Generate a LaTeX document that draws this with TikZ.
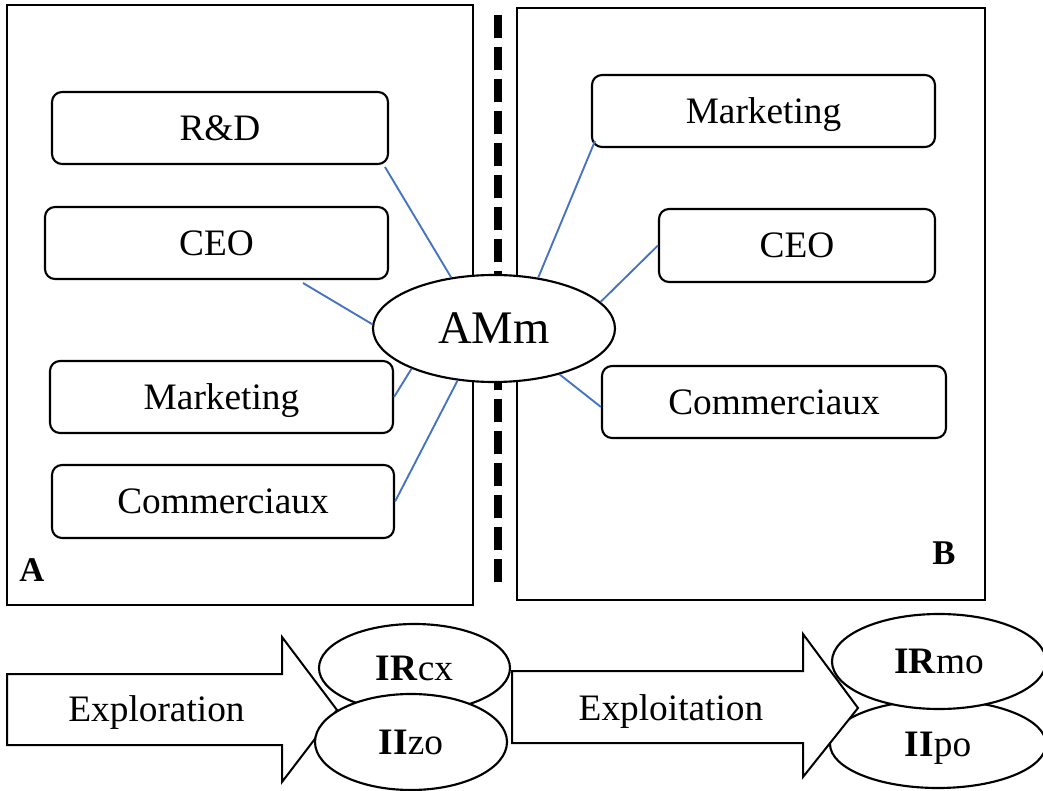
\documentclass[tikz,border=0pt]{standalone}
\usepackage{fontspec}
\setmainfont{Liberation Serif}
\usetikzlibrary{shapes.geometric}
\definecolor{linkblue}{HTML}{4472C4}
\begin{document}
\begin{tikzpicture}[x=0.75pt,y=-0.75pt,
  frame/.style={draw, line width=1.5pt},
  unit/.style={draw, line width=1.6pt, rounded corners=7.5pt, fill=white, inner sep=0pt,
    minimum height=54pt, text height=18.5pt, text depth=0pt, font=\fontsize{28}{30}\selectfont},
  link/.style={draw=linkblue, line width=1.4pt},
  oval/.style={draw, ellipse, line width=1.6pt, fill=white, inner sep=0pt,
    text height=18.5pt, text depth=0pt, font=\fontsize{28}{30}\selectfont},
  flow/.style={draw, line width=1.5pt, fill=white, line join=miter},
  lbl/.style={inner sep=0pt, text height=18.5pt, text depth=0pt, font=\fontsize{28}{30}\selectfont},
  tag/.style={inner sep=0pt, text height=17.2pt, text depth=0pt, font=\fontsize{26}{28}\selectfont\bfseries}]
\useasboundingbox (0,0) rectangle (1043,791);

% frames
\draw[frame] (7,5) rectangle (473,605);
\draw[frame] (517,8) rectangle (985,600);
\coordinate (dtop) at (498,15);
\coordinate (dbot) at (498,582);
\draw[line width=6pt, dash pattern=on 17.25pt off 6.75pt] (dtop) -- (dbot);

% boxes
\node[unit, minimum width=252pt] (rdl) at (220,128) {R\&D};
\node[unit, minimum width=257.25pt] (ceol) at (216.5,243) {CEO};
\node[unit, minimum width=257.25pt] (mkl) at (221.5,397) {Marketing};
\node[unit, minimum width=256.5pt, minimum height=54.75pt] (coml) at (223,501.5) {Commerciaux};
\node[unit, minimum width=257.25pt] (mkr) at (763.5,111) {Marketing};
\node[unit, minimum width=207pt, minimum height=54.75pt] (ceor) at (797,245.5) {CEO};
\node[unit, minimum width=258pt] (comr) at (774,402) {Commerciaux};

\node[tag] (ta) at (32,570) {A};
\node[tag] (tb) at (944,553) {B};

% central ellipse
\node[oval, minimum width=181.5pt, minimum height=80.25pt, text height=23.2pt,
  font=\fontsize{35}{40}\selectfont] (amm) at (494,328.5) {AMm};

% connectors
\coordinate (rdfoot) at (385,167);
\coordinate (ceofoot) at (303,283);
\coordinate (mkrfoot) at (595,141);
\draw[link] (rdfoot) -- (amm.130);
\draw[link] (ceofoot) -- (amm.178);
\draw[link] (mkl.east) -- (amm.206);
\draw[link] (coml.east) -- (amm.235);
\draw[link] (mkrfoot) -- (amm.49);
\draw[link] (ceor.west) -- (amm.14);
\draw[link] ([yshift=-3.75pt]comr.west) -- (amm.325);

% bottom: exploration
\node[oval, minimum width=143.25pt, minimum height=66pt] (ircx) at (414.5,668) {\textbf{IR}cx};
\draw[flow] (7,674) -- (282,674) -- (282,637) -- (337,710) -- (282,782) -- (282,745) -- (7,745) -- cycle;
\node[lbl] (explo) at (156.5,709) {Exploration};
\node[oval, minimum width=144pt, minimum height=72pt] (iizo) at (411,742) {\textbf{II}zo};

% bottom: exploitation
\node[oval, minimum width=162pt, minimum height=66pt] (iipo) at (938,744) {\textbf{II}po};
\node[oval, minimum width=160.5pt, minimum height=71.25pt] (irmo) at (939,661.5) {\textbf{IR}mo};
\draw[flow] (512,671) -- (803,671) -- (803,634) -- (858,708) -- (803,777) -- (803,743) -- (512,743) -- cycle;
\node[lbl] (exploi) at (671,708) {Exploitation};
\end{tikzpicture}
\end{document}
